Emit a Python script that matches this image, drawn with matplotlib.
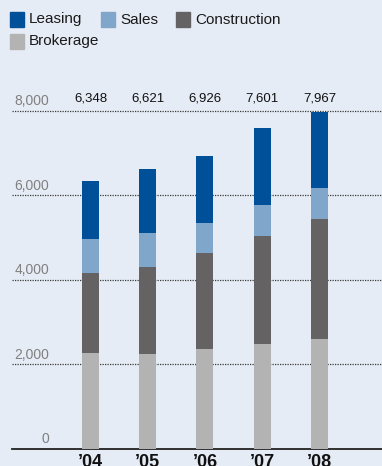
import matplotlib.pyplot as plt
from matplotlib.patches import Rectangle
import numpy as np

years = ["\u201904", "\u201905", "\u201906", "\u201907", "\u201908"]
brokerage = [2268, 2244, 2355, 2474, 2593]
construction = [1890, 2056, 2277, 2562, 2846]
sales = [807, 807, 712, 735, 735]
leasing = [1383, 1514, 1582, 1830, 1793]
totals = ["6,348", "6,621", "6,926", "7,601", "7,967"]
yticks = [0, 2000, 4000, 6000, 8000]

bg = "#e6ecf5"
colors = {"Leasing": "#004f99", "Sales": "#80a6cc",
          "Construction": "#656263", "Brokerage": "#b3b3b3"}

plt.rcParams['font.family'] = ['Liberation Sans', 'DejaVu Sans']

W, H = 382, 466
fig = plt.figure(figsize=(W / 100, H / 100), dpi=100, facecolor=bg)
ax = fig.add_axes([12 / W, (H - 448.5) / H, 370 / W, (448.5 - 111) / H])
ax.set_facecolor(bg)

x = np.arange(len(years))
width = 0.297
bottom = np.zeros(len(years))
for name, vals in [("Brokerage", brokerage), ("Construction", construction),
                   ("Sales", sales), ("Leasing", leasing)]:
    ax.bar(x, vals, width, bottom=bottom, color=colors[name], zorder=3)
    bottom += np.array(vals)

ax.set_xlim(-1.371, 5.092)
ax.set_ylim(0, 8000)

# gridlines + tick labels
for v in yticks[1:]:
    ax.axhline(v, color="#3a3a3a", lw=0.9, linestyle=(0, (1, 1)), zorder=1, clip_on=False)
for v in yticks:
    ax.text(-0.725, v + 60, f"{v:,}", ha="right", va="bottom", fontsize=10,
            color="#808080", clip_on=False)

# totals on top
for xi, t in zip(x, totals):
    ax.text(xi, 8230, t, ha="center", va="baseline", fontsize=9.5, color="#111111", clip_on=False)

# year labels
for xi, yr in zip(x, years):
    ax.text(xi, -140, yr, ha="center", va="top", fontsize=13, fontweight="bold",
            color="#111111", clip_on=False)

for s in ["top", "right", "left"]:
    ax.spines[s].set_visible(False)
ax.spines["bottom"].set_color("#222222")
ax.spines["bottom"].set_linewidth(1.3)
ax.set_xticks([])
ax.set_yticks([])

# legend
legend_items = [("Leasing", 10, 12), ("Sales", 101, 12), ("Construction", 176, 12),
                ("Brokerage", 10, 34)]
for name, px, py in legend_items:
    fig.patches.append(Rectangle((px / W, 1 - (py + 15) / H), 14 / W, 15 / H,
                                 transform=fig.transFigure, color=colors[name]))
    fig.text((px + 19) / W, 1 - (py + 7.5) / H, name, ha="left", va="center",
             fontsize=11, color="#1a1a1a")

fig.savefig("out.png", dpi=100, facecolor=bg)
